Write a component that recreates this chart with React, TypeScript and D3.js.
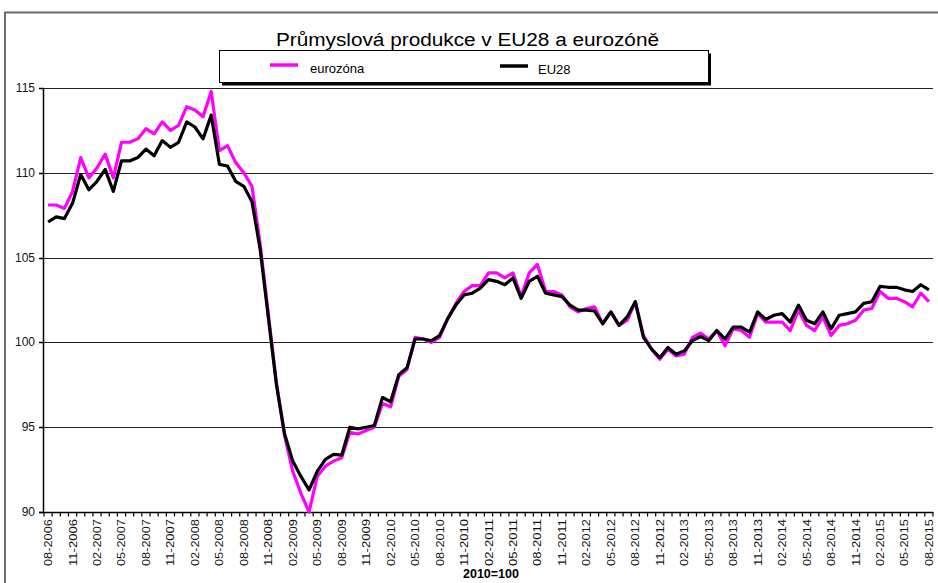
import { useEffect, useRef } from "react";
import * as d3 from "d3";

// monthly index 2010=100, 08-2006 .. 08-2015
const euro28 = [
  107.1, 107.4, 107.3, 108.2, 109.9, 109.0, 109.5, 110.2, 108.9, 110.7, 110.7, 110.9,
  111.4, 111.0, 111.9, 111.5, 111.8, 113.0, 112.7, 112.0, 113.4, 110.5, 110.4, 109.5,
  109.2, 108.3, 105.5, 101.5, 97.5, 94.6, 93.0, 92.1, 91.3, 92.4, 93.1, 93.4,
  93.35, 95.0, 94.9, 95.0, 95.1, 96.75, 96.5, 98.1, 98.5, 100.2, 100.2, 100.1,
  100.4, 101.4, 102.2, 102.8, 102.9, 103.2, 103.7, 103.6, 103.4, 103.8, 102.6, 103.6,
  103.9, 102.9, 102.8, 102.7, 102.2, 101.9, 101.9, 101.85, 101.1, 101.8, 101.0, 101.5,
  102.4, 100.3, 99.6, 99.1, 99.7, 99.3, 99.5, 100.1, 100.35, 100.1, 100.7, 100.2,
  100.9, 100.9, 100.6, 101.8, 101.35, 101.6, 101.7, 101.2, 102.2, 101.3, 101.1, 101.8,
  100.8, 101.6, 101.7, 101.8, 102.3, 102.4, 103.3, 103.25, 103.25, 103.1, 103.0, 103.4,
  103.1,
];

const eurozona = [
  108.1, 108.1, 107.9, 108.9, 110.9, 109.7, 110.3, 111.1, 109.7, 111.8, 111.8, 112.0,
  112.6, 112.3, 113.0, 112.5, 112.8, 113.9, 113.7, 113.3, 114.8, 111.3, 111.6, 110.6,
  110.0, 109.2, 105.8, 101.7, 97.6, 94.5, 92.4, 91.1, 90.0, 92.1, 92.7, 93.0,
  93.2, 94.7, 94.6, 94.8, 95.0, 96.4, 96.2, 98.0, 98.4, 100.3, 100.2, 100.0,
  100.3, 101.4, 102.3, 103.0, 103.35, 103.35, 104.1, 104.1, 103.8, 104.1, 102.7, 104.1,
  104.6, 103.0, 103.0, 102.8, 102.1, 101.8, 102.0, 102.1, 101.1, 101.8, 101.0, 101.3,
  102.4, 100.4, 99.6, 99.0, 99.6, 99.2, 99.3, 100.3, 100.55, 100.2, 100.7, 99.8,
  100.8, 100.7, 100.3, 101.7, 101.2, 101.2, 101.2, 100.7, 101.9, 101.0, 100.7, 101.5,
  100.4, 101.0, 101.1, 101.3, 101.9, 102.0, 103.0, 102.6, 102.6, 102.4, 102.1, 102.9,
  102.4,
];

// a label on every third month
const tickLabels = [
  "08-2006", "11-2006", "02-2007", "05-2007", "08-2007", "11-2007", "02-2008", "05-2008",
  "08-2008", "11-2008", "02-2009", "05-2009", "08-2009", "11-2009", "02-2010", "05-2010",
  "08-2010", "11-2010", "02-2011", "05-2011", "08-2011", "11-2011", "02-2012", "05-2012",
  "08-2012", "11-2012", "02-2013", "05-2013", "08-2013", "11-2013", "02-2014", "05-2014",
  "08-2014", "11-2014", "02-2015", "05-2015", "08-2015",
];

const yTicks = [90, 95, 100, 105, 110, 115];

const series = [
  { name: "eurozóna", values: eurozona, color: "#ff00ff" },
  { name: "EU28", values: euro28, color: "#000000" },
];

const NARROW = "'Liberation Sans Narrow', 'Liberation Sans', Arial, sans-serif";
const ARIAL = "'Liberation Sans', Arial, sans-serif";

export default function App() {
  const ref = useRef<SVGSVGElement>(null);

  useEffect(() => {
    const svg = d3.select(ref.current);
    svg.selectAll("*").remove();

    const W = 938, H = 583;
    const left = 44, right = 933, top = 88, bottom = 512;

    const x = d3.scaleBand<number>()
      .domain(d3.range(euro28.length))
      .range([left, right])
      .padding(0);
    const cx = (i: number) => (x(i) as number) + x.bandwidth() / 2;

    const y = d3.scaleLinear().domain([90, 115]).range([bottom, top]);

    svg.append("rect").attr("width", W).attr("height", H).attr("fill", "#fff");

    // outer chart frame (top and left edge only visible)
    svg.append("path")
      .attr("d", `M5,${H} L5,12.5 L${W},12.5`)
      .attr("fill", "none")
      .attr("stroke", "#6b6b6b")
      .attr("stroke-width", 2);

    // title
    svg.append("text")
      .attr("x", 276)
      .attr("y", 46)
      .attr("textLength", 383)
      .attr("lengthAdjust", "spacingAndGlyphs")
      .style("font-family", NARROW)
      .style("font-size", "18px")
      .style("fill", "#000")
      .text("Průmyslová produkce v EU28 a eurozóně");

    // legend box with shadow
    svg.append("rect")
      .attr("x", 222).attr("y", 53.5).attr("width", 489).attr("height", 32)
      .attr("fill", "#000");
    svg.append("rect")
      .attr("x", 219.5).attr("y", 50.5).attr("width", 489).attr("height", 32)
      .attr("fill", "#fff").attr("stroke", "#000").attr("stroke-width", 1);

    const legendPos = [
      { lx: 270, tx: 310, ly: 65, ty: 73 },
      { lx: 500, tx: 538, ly: 66, ty: 74 },
    ];
    series.forEach((s, k) => {
      const p = legendPos[k];
      svg.append("line")
        .attr("x1", p.lx).attr("x2", p.lx + 28)
        .attr("y1", p.ly).attr("y2", p.ly)
        .attr("stroke", s.color).attr("stroke-width", 3.5);
      svg.append("text")
        .attr("x", p.tx).attr("y", p.ty)
        .style("font-family", NARROW)
        .style("font-size", "13px")
        .text(s.name);
    });

    // gridlines
    svg.append("g")
      .selectAll("line")
      .data(yTicks.filter(v => v > 90))
      .join("line")
      .attr("x1", left).attr("x2", right)
      .attr("y1", d => Math.round(y(d)) + 0.5)
      .attr("y2", d => Math.round(y(d)) + 0.5)
      .attr("stroke", "#222")
      .attr("stroke-width", 1);

    // y axis
    const yAxis = svg.append("g");
    yAxis.append("line")
      .attr("x1", left - 0.5).attr("x2", left - 0.5)
      .attr("y1", top).attr("y2", bottom)
      .attr("stroke", "#000").attr("stroke-width", 1.5);
    yAxis.selectAll("line.tick")
      .data(yTicks)
      .join("line")
      .attr("class", "tick")
      .attr("x1", left - 5).attr("x2", left)
      .attr("y1", d => Math.round(y(d)) + 0.5)
      .attr("y2", d => Math.round(y(d)) + 0.5)
      .attr("stroke", "#000").attr("stroke-width", 1.5);
    yAxis.selectAll("text")
      .data(yTicks)
      .join("text")
      .attr("x", 35)
      .attr("y", d => y(d) + 4)
      .attr("text-anchor", "end")
      .style("font-family", ARIAL)
      .style("font-size", "12px")
      .style("fill", "#111")
      .text(d => d);

    // x axis
    const xAxis = svg.append("g");
    xAxis.append("line")
      .attr("x1", left - 5).attr("x2", right)
      .attr("y1", bottom + 0.5).attr("y2", bottom + 0.5)
      .attr("stroke", "#000").attr("stroke-width", 1.5);
    xAxis.selectAll("line.tick")
      .data(d3.range(euro28.length + 1))
      .join("line")
      .attr("class", "tick")
      .attr("x1", i => left + i * x.bandwidth())
      .attr("x2", i => left + i * x.bandwidth())
      .attr("y1", bottom).attr("y2", bottom + 4.5)
      .attr("stroke", "#000").attr("stroke-width", 1.2);
    xAxis.selectAll("text")
      .data(tickLabels)
      .join("text")
      .attr("transform", (_, k) => `translate(${cx(k * 3) + 4},${bottom + 7}) rotate(-90)`)
      .attr("text-anchor", "end")
      .attr("textLength", 47)
      .attr("lengthAdjust", "spacingAndGlyphs")
      .style("font-family", ARIAL)
      .style("font-size", "10.5px")
      .style("fill", "#111")
      .text(d => d);

    svg.append("text")
      .attr("x", 463)
      .attr("y", 578)
      .attr("textLength", 56)
      .attr("lengthAdjust", "spacingAndGlyphs")
      .style("font-family", ARIAL)
      .style("font-size", "12px")
      .style("font-weight", "bold")
      .text("2010=100");

    // lines
    const line = d3.line<number>()
      .x((_, i) => cx(i))
      .y(d => y(d));

    series.forEach(s => {
      svg.append("path")
        .datum(s.values)
        .attr("d", line)
        .attr("fill", "none")
        .attr("stroke", s.color)
        .attr("stroke-width", 3.2)
        .attr("stroke-linejoin", "round");
    });
  }, []);

  return (
    <div style={{ position: "absolute", left: 0, top: 0, width: 938, height: 583 }}>
      <svg ref={ref} width={938} height={583} style={{ display: "block" }} />
    </div>
  );
}
